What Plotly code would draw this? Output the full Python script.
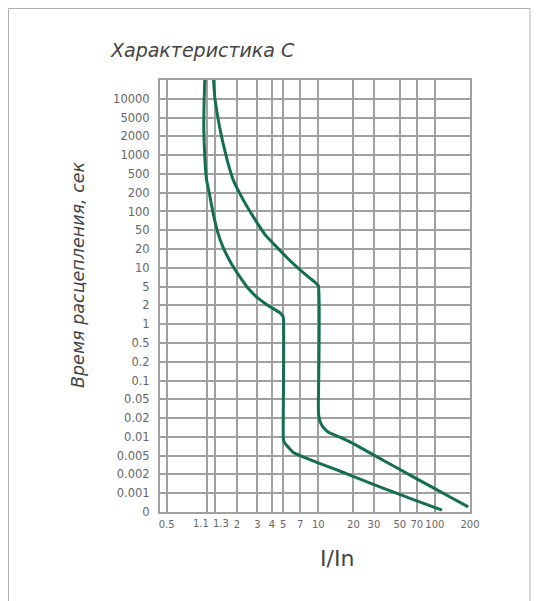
import numpy as np
import plotly.graph_objects as go

# ---- data ----
y_tick_times = [0, 0.001, 0.002, 0.005, 0.01, 0.02, 0.05, 0.1, 0.2, 0.5, 1, 2, 5,
                10, 20, 50, 100, 200, 500, 1000, 2000, 5000, 10000]
y_tick_labels = ["0", "0.001", "0.002", "0.005", "0.01", "0.02", "0.05", "0.1", "0.2",
                 "0.5", "1", "2", "5", "10", "20", "50", "100", "200", "500", "1000",
                 "2000", "5000", "10000"]
x_tick_vals = [0.5, 1.1, 1.3, 2, 3, 4, 5, 7, 10, 20, 30, 50, 70, 100, 200]
x_tick_labels = ["0.5", "1.1", "1.3", "2", "3", "4", "5", "7", "10", "20", "30", "50",
                 "70", "100", "200"]
close_ticks = ["1.1", "1.3"]  # labels drawn side by side (they touch in the original)

# lower boundary curve (I/In, seconds)
lower_I = [1.06, 1.045, 1.04, 1.05, 1.065, 1.10, 1.17, 1.25, 1.37, 1.52, 1.78, 2.13,
           2.5, 2.96, 3.7, 4.69, 5.0, 5.0, 5.1, 5.3, 5.7, 6.1, 7.4, 9.7, 14.4, 18.7,
           27.8, 35.9, 53.3, 70, 115]
lower_t = [20000, 8000, 3000, 1500, 800, 370, 180, 95, 45, 22, 12, 7.1, 4.6, 3.0,
           2.0, 1.52, 1.3, 0.0095, 0.0082, 0.0074, 0.0064, 0.0056, 0.0047, 0.0036,
           0.0025, 0.00195, 0.00145, 0.00121, 0.00087, 0.00059, 0.0001]

# upper boundary curve (I/In, seconds)
upper_I = [1.26, 1.29, 1.34, 1.42, 1.52, 1.66, 1.86, 2.2, 2.77, 3.5, 4.4, 5.5, 6.97,
           8.5, 10, 10, 10.05, 10.3, 10.8, 11.6, 12.6, 14.4, 18.7, 35.9, 70, 135, 193]
upper_t = [20000, 11000, 6600, 3200, 1570, 800, 373, 170, 82, 40, 22, 14, 9.3, 6.8,
           5.2, 0.035, 0.024, 0.018, 0.015, 0.0128, 0.0115, 0.0104, 0.0083, 0.0040,
           0.0017, 0.0008, 0.00027]

# ---- ordinal time scale used by the chart (equal spacing per tick) ----
ladder = np.array(y_tick_times[1:] + [20000.0])
ladder_pos = np.arange(1, len(ladder) + 1)


def to_pos(ts):
    out = []
    for t in ts:
        if t < 0.001:
            out.append(t / 0.001)
        else:
            out.append(float(np.interp(np.log10(t), np.log10(ladder), ladder_pos)))
    return out


GREEN = "#146f52"
GRID = "#a0a0a0"
FONT = "DejaVu Sans"


# page pixel -> paper helpers (plot area: x 160..470, y 80..512 on the page)
def px(x):
    return (x - 160) / 310


def py(y):
    return (512 - y) / 432


fig = go.Figure()
for xs, ts in ((lower_I, lower_t), (upper_I, upper_t)):
    fig.add_trace(go.Scatter(x=xs, y=to_pos(ts), mode="lines",
                             line=dict(color=GREEN, width=3, shape="spline", smoothing=0.3),
                             showlegend=False, hoverinfo="skip"))

tick_text_axis = ["" if t in close_ticks else t for t in x_tick_labels]

fig.update_layout(
    width=531, height=593,
    margin=dict(l=152, r=69, t=72, b=89),
    paper_bgcolor="white", plot_bgcolor="white",
    font=dict(family=FONT, color="#555"),
    xaxis=dict(type="log", range=[np.log10(0.438), np.log10(200)],
               tickvals=x_tick_vals, ticktext=tick_text_axis, tickangle=0,
               showgrid=True, gridcolor=GRID, gridwidth=2,
               showline=True, linecolor=GRID, linewidth=2, mirror=True,
               ticks="", tickfont=dict(family=FONT, size=10, color="#666"),
               ticklabelstandoff=2, zeroline=False),
    yaxis=dict(range=[0, 23], tickvals=list(range(len(y_tick_labels))),
               ticktext=y_tick_labels,
               showgrid=True, gridcolor=GRID, gridwidth=2,
               showline=True, linecolor=GRID, linewidth=2, mirror=True,
               ticks="", tickfont=dict(family=FONT, size=11.5, color="#666"),
               ticklabelstandoff=6, zeroline=False),
)

# the two crowded tick labels, placed so that they just touch
for lbl, anchor in zip(close_ticks, ("right", "left")):
    val = x_tick_vals[x_tick_labels.index(lbl)]
    fig.add_annotation(text=lbl, xref="x", yref="paper", x=np.log10(val),
                       y=py(523), xanchor=anchor, yanchor="middle",
                       xshift=4 if anchor == "right" else -4,
                       showarrow=False,
                       font=dict(family=FONT, size=10, color="#666"))

fig.add_annotation(text="Характеристика С", xref="paper", yref="paper",
                   x=px(108), y=py(50), xanchor="left", yanchor="middle",
                   showarrow=False,
                   font=dict(family=FONT, size=19, color="#444", style="italic"))
fig.add_annotation(text="Время расцепления, сек", xref="paper", yref="paper",
                   x=px(78), y=py(275), textangle=-90,
                   xanchor="center", yanchor="middle", showarrow=False,
                   font=dict(family=FONT, size=17.5, color="#444", style="italic"))
fig.add_annotation(text="I/In", xref="paper", yref="paper",
                   x=px(337), y=py(558), xanchor="center", yanchor="middle",
                   showarrow=False,
                   font=dict(family=FONT, size=22, color="#444"))

fig.add_shape(type="rect", xref="paper", yref="paper",
              x0=px(8.5), x1=px(530), y0=py(620), y1=py(8.5),
              line=dict(color="#b0b0b0", width=1))

fig.write_html("out.html")
